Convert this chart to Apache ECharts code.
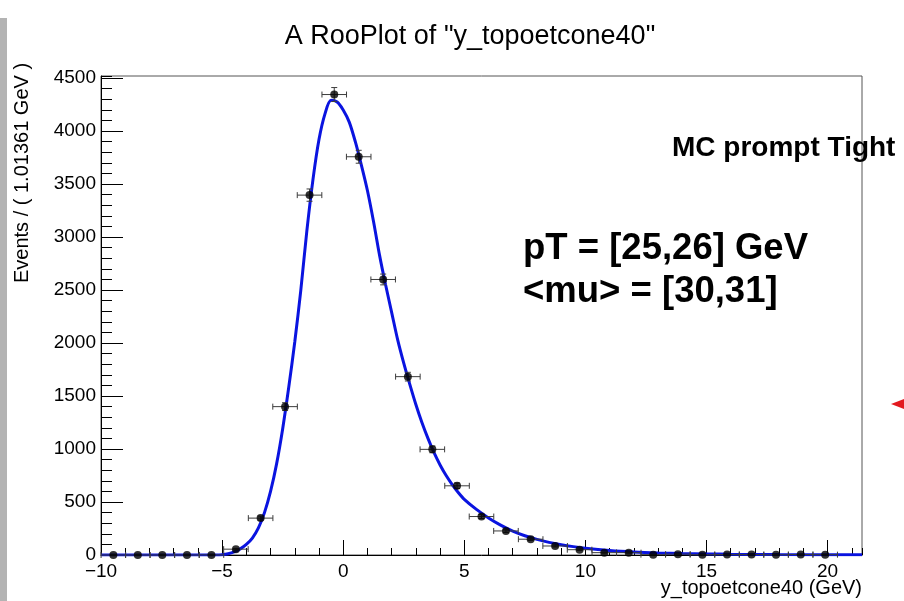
<!DOCTYPE html>
<html>
<head>
<meta charset="utf-8">
<title>A RooPlot of "y_topoetcone40"</title>
<script src="https://cdn.jsdelivr.net/npm/echarts@6/dist/echarts.min.js"></script>
<style>
  html, body { margin: 0; padding: 0; background: #fff; }
  #chart { width: 904px; height: 601px; }
</style>
</head>
<body>
<div id="chart"></div>
<script>
// histogram, 31 bins of 1.01361 GeV starting at -10 (last bin empty)
const binCenters = [-9.49, -8.48, -7.47, -6.45, -5.44, -4.43, -3.41, -2.40, -1.39, -0.37,
  0.64, 1.65, 2.67, 3.68, 4.70, 5.71, 6.72, 7.74, 8.75, 9.76,
  10.78, 11.79, 12.80, 13.82, 14.83, 15.85, 16.86, 17.87, 18.89, 19.90];
const events = [0, 0, 0, 0, 1, 55, 348, 1400, 3396, 4345,
  3758, 2600, 1683, 997, 653, 363, 227, 149, 85, 50,
  22, 22, 3, 8, 3, 4, 4, 2, 4, 3];
const eventErrors = [0, 0, 0, 0, 1, 7, 19, 37, 58, 66,
  61, 51, 41, 32, 26, 19, 15, 12, 9, 7,
  5, 5, 2, 3, 2, 2, 2, 1, 2, 2];
const binHalfWidth = 0.507;

// fitted pdf, points
const fitX = [-10, -7, -5.5, -5.25, -5.0, -4.75, -4.5, -4.25, -4.0, -3.75, -3.5, -3.25, -3.0,
  -2.75, -2.5, -2.25, -2.0, -1.75, -1.5, -1.25, -1.0, -0.75, -0.5, -0.25, 0.0, 0.25, 0.5,
  0.75, 1.0, 1.25, 1.5, 1.75, 2.0, 2.25, 2.5, 2.75, 3.0, 3.25, 3.5, 3.75, 4.0, 4.25, 4.5,
  4.75, 5.0, 5.5, 6.0, 6.5, 7.0, 7.5, 8.0, 8.5, 9.0, 9.5, 10, 11, 12, 13, 14, 15, 16, 18,
  21.42];
const fitY = [0, 0, 0, 0, 3, 12, 30, 58, 100, 160, 255, 400, 600,
  860, 1190, 1580, 2010, 2500, 3060, 3540, 3920, 4165, 4290, 4275, 4200, 4085, 3900,
  3680, 3440, 3150, 2830, 2550, 2290, 2030, 1810, 1610, 1420, 1250, 1100, 965, 850, 750, 665,
  590, 525, 430, 350, 282, 226, 182, 147, 119, 97, 79, 64, 43, 29, 20, 14, 10, 7, 4,
  2];

const xTicks = [-10, -5, 0, 5, 10, 15, 20];
const yTicks = [0, 500, 1000, 1500, 2000, 2500, 3000, 3500, 4000, 4500];

const FONT = '"Liberation Sans", Arial, Helvetica, sans-serif';
const X_MIN = -10, X_MAX = 21.42;
const Y_MIN = 0, Y_MAX = 4520;

const minus = (v) => (v < 0 ? '\u2212' + Math.abs(v) : String(v));

const chart = echarts.init(document.getElementById('chart'), null, { renderer: 'canvas' });

const pointData = binCenters.map((x, i) => [x, events[i], eventErrors[i]]);
const fitData = fitX.map((x, i) => [x, fitY[i]]);

const option = {
  backgroundColor: '#fff',
  animation: false,
  grid: {
    left: 101, right: 42, top: 76, bottom: 46,
    show: true, borderColor: '#555', borderWidth: 1, backgroundColor: 'transparent'
  },
  xAxis: [
    {
      type: 'value', min: X_MIN, max: X_MAX, position: 'bottom',
      axisLine: { show: true, onZero: false, lineStyle: { color: '#000', width: 1 } },
      axisTick: { show: true, inside: true, length: 15, customValues: xTicks, lineStyle: { color: '#000' } },
      axisLabel: {
        show: true, customValues: xTicks, color: '#000', fontSize: 19, fontFamily: FONT, margin: 7,
        formatter: minus
      },
      splitLine: { show: false }
    },
    {
      // minor ticks, 1 GeV
      type: 'value', min: X_MIN, max: X_MAX, interval: 1, position: 'bottom',
      axisLine: { show: false, onZero: false },
      axisTick: { show: true, inside: true, length: 7, lineStyle: { color: '#000' } },
      axisLabel: { show: false },
      splitLine: { show: false }
    }
  ],
  yAxis: [
    {
      type: 'value', min: Y_MIN, max: Y_MAX, position: 'left',
      axisLine: { show: true, onZero: false, lineStyle: { color: '#000', width: 1 } },
      axisTick: { show: true, inside: true, length: 22, customValues: yTicks, lineStyle: { color: '#000' } },
      axisLabel: {
        show: true, customValues: yTicks, color: '#000', fontSize: 19, fontFamily: FONT, margin: 5,
        formatter: (v) => String(v)
      },
      splitLine: { show: false }
    },
    {
      // minor ticks, 100 events
      type: 'value', min: Y_MIN, max: Y_MAX, interval: 100, position: 'left',
      axisLine: { show: false, onZero: false },
      axisTick: { show: true, inside: true, length: 11, lineStyle: { color: '#000' } },
      axisLabel: { show: false },
      splitLine: { show: false }
    }
  ],
  series: [
    {
      name: 'fit',
      type: 'line',
      data: fitData,
      showSymbol: false,
      smooth: 0.3,
      lineStyle: { color: '#0a14e0', width: 3 },
      z: 3
    },
    {
      name: 'errors',
      type: 'custom',
      data: pointData,
      renderItem: function (params, api) {
        const x = api.value(0), y = api.value(1), e = api.value(2);
        const l = api.coord([x - binHalfWidth, y]);
        const r = api.coord([x + binHalfWidth, y]);
        const lo = api.coord([x, y - e]);
        const hi = api.coord([x, y + e]);
        const style = { stroke: '#3c3c3c', lineWidth: 1 };
        const cap = 3;
        const seg = (x1, y1, x2, y2) => ({ type: 'line', shape: { x1, y1, x2, y2 }, style });
        return {
          type: 'group',
          children: [
            seg(l[0], l[1], r[0], r[1]),
            seg(l[0], l[1] - cap, l[0], l[1] + cap),
            seg(r[0], r[1] - cap, r[0], r[1] + cap),
            seg(lo[0], lo[1], hi[0], hi[1]),
            seg(hi[0] - cap, hi[1], hi[0] + cap, hi[1]),
            seg(lo[0] - cap, lo[1], lo[0] + cap, lo[1])
          ]
        };
      },
      z: 4
    },
    {
      name: 'data',
      type: 'scatter',
      data: pointData.map((p) => [p[0], p[1]]),
      symbol: 'circle',
      symbolSize: 8,
      itemStyle: { color: '#000' },
      z: 5
    }
  ],
  graphic: [
    {
      type: 'rect', shape: { x: 0, y: 18, width: 7, height: 583 },
      style: { fill: '#b3b3b3' }, silent: true
    },
    {
      type: 'polygon', shape: { points: [[891, 404], [904, 399], [904, 409]] },
      style: { fill: '#e3191f' }, silent: true
    },
    {
      type: 'text', x: 470, y: 37,
      style: { text: 'A RooPlot of "y_topoetcone40"', fontSize: 27, fontFamily: FONT, fill: '#000', align: 'center', verticalAlign: 'middle' }
    },
    {
      type: 'text', x: 22, y: 173, rotation: Math.PI / 2,
      style: { text: 'Events / ( 1.01361 GeV )', fontSize: 20, fontFamily: FONT, fill: '#000', align: 'center', verticalAlign: 'middle' }
    },
    {
      type: 'text', x: 862, y: 588,
      style: { text: 'y_topoetcone40 (GeV)', fontSize: 20, fontFamily: FONT, fill: '#000', align: 'right', verticalAlign: 'middle' }
    },
    {
      type: 'text', x: 672, y: 148, z: 10,
      style: { text: 'MC prompt Tight', fontSize: 28, fontWeight: 'bold', fontFamily: FONT, fill: '#000', align: 'left', verticalAlign: 'middle' }
    },
    {
      type: 'text', x: 523, y: 249, z: 10,
      style: { text: 'pT = [25,26] GeV', fontSize: 36.5, fontWeight: 'bold', fontFamily: FONT, fill: '#000', align: 'left', verticalAlign: 'middle' }
    },
    {
      type: 'text', x: 523, y: 292, z: 10,
      style: { text: '<mu> = [30,31]', fontSize: 36.5, fontWeight: 'bold', fontFamily: FONT, fill: '#000', align: 'left', verticalAlign: 'middle' }
    }
  ]
};

chart.setOption(option);
window.addEventListener('resize', chart.resize);
</script>
</body>
</html>
